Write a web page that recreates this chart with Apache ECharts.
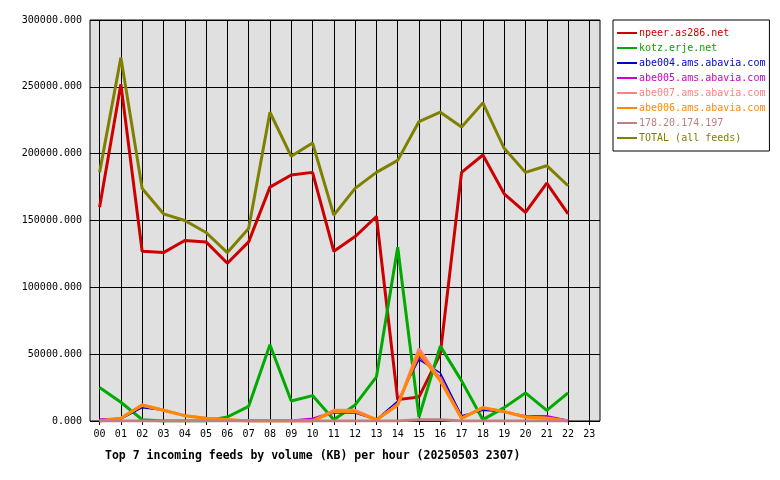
<!DOCTYPE html>
<html><head><meta charset="utf-8">
<script src="https://cdn.jsdelivr.net/npm/echarts@6/dist/echarts.min.js"></script>
<style>body{margin:0;background:#fff}#c{width:780px;height:480px}</style>
</head><body><div id="c"></div>
<script>
const hours = ['00','01','02','03','04','05','06','07','08','09','10','11','12','13','14','15','16','17','18','19','20','21','22','23'];
const yTicks = [0,50000,100000,150000,200000,250000,300000];
const npeer  = [160000,252000,127000,126000,135000,134000,118000,134000,175000,184000,186000,127000,138000,153000,16000,18000,50000,186000,199000,170000,156000,178000,155000];
const kotz   = [25000,14000,1000,0,0,0,3000,11000,57000,15000,19000,1000,12000,33000,130000,3000,56000,30000,1000,10000,21000,8000,21000];
const abe004 = [500,1500,10000,8000,4000,2000,1000,500,500,500,1000,6000,6000,1000,15000,46000,36000,4000,8000,7000,3000,3000,500];
const abe005 = [1500,2000,11000,8000,4000,2000,1000,500,500,500,2000,7000,7000,1000,13000,48000,33000,3000,9000,7000,4000,4000,500];
const abe007 = [0,2000,12000,8000,4000,2000,1000,0,0,0,0,8000,8000,1000,12000,54000,31000,2000,10000,7000,3000,2000,0];
const abe006 = [0,2000,12000,8000,4000,2000,1000,0,0,0,0,7000,7000,1000,12000,51000,30000,2000,10000,7000,3000,2000,0];
const ip178  = [0,0,0,0,0,0,0,0,0,0,0,0,0,0,0,1000,1000,0,0,0,0,0,0];
const total  = [186000,272000,174000,155000,150000,141000,126000,144000,231000,198000,208000,154000,174000,186000,195000,224000,231000,220000,238000,204000,186000,191000,176000];

const defs = [
 ['npeer.as286.net', npeer, '#cc0000', 3],
 ['kotz.erje.net', kotz, '#00aa00', 3],
 ['abe004.ams.abavia.com', abe004, '#0000cc', 1.5],
 ['abe005.ams.abavia.com', abe005, '#cc00cc', 1.5],
 ['abe007.ams.abavia.com', abe007, '#ff8080', 3],
 ['abe006.ams.abavia.com', abe006, '#ff8800', 3],
 ['178.20.174.197', ip178, '#c08080', 3],
 ['TOTAL (all feeds)', total, '#808000', 3]
];
const font = 'DejaVu Sans Mono';
const chart = echarts.init(document.getElementById('c'));
chart.setOption({
  animation:false,
  textStyle:{fontFamily:font},
  grid:{left:90,right:180,top:20,bottom:59,show:true,backgroundColor:'#e0e0e0',borderColor:'#000',borderWidth:1},
  title:{text:'Top 7 incoming feeds by volume (KB) per hour (20250503 2307)',left:100,top:445,
    textStyle:{fontFamily:font,fontSize:11.5,fontWeight:'bold',color:'#000'}},
  legend:{orient:'vertical',left:613,top:20,itemGap:5,itemWidth:20,itemHeight:2,icon:'rect',
    padding:[8,4,8,4],borderColor:'#000',borderWidth:1,
    textStyle:{fontFamily:font,fontSize:10,padding:[0,0,0,-3]},
    data:defs.map(d=>({name:d[0],textStyle:{color:d[2]},itemStyle:{color:d[2]},lineStyle:{color:d[2]}}))},
  xAxis:{type:'value',min:-0.45,max:23.5,
    axisLine:{show:false},
    axisTick:{show:true,customValues:hours.map((h,i)=>i),length:4,lineStyle:{color:'#000'}},
    axisLabel:{customValues:hours.map((h,i)=>i),formatter:v=>hours[Math.round(v)],color:'#000',fontFamily:font,fontSize:10},
    splitLine:{show:true,lineStyle:{color:'#000',width:1}}},
  yAxis:{type:'value',min:0,max:300000,interval:50000,
    axisLine:{show:false},axisTick:{show:false},
    axisLabel:{formatter:v=>v.toFixed(3),color:'#000',fontFamily:font,fontSize:10},
    splitLine:{lineStyle:{color:'#000',width:1}}},
  series:defs.map(d=>({name:d[0],type:'line',symbol:'none',data:d[1].map((v,i)=>[i,v]),
    lineStyle:{color:d[2],width:d[3]},itemStyle:{color:d[2]}}))
});
</script></body></html>
